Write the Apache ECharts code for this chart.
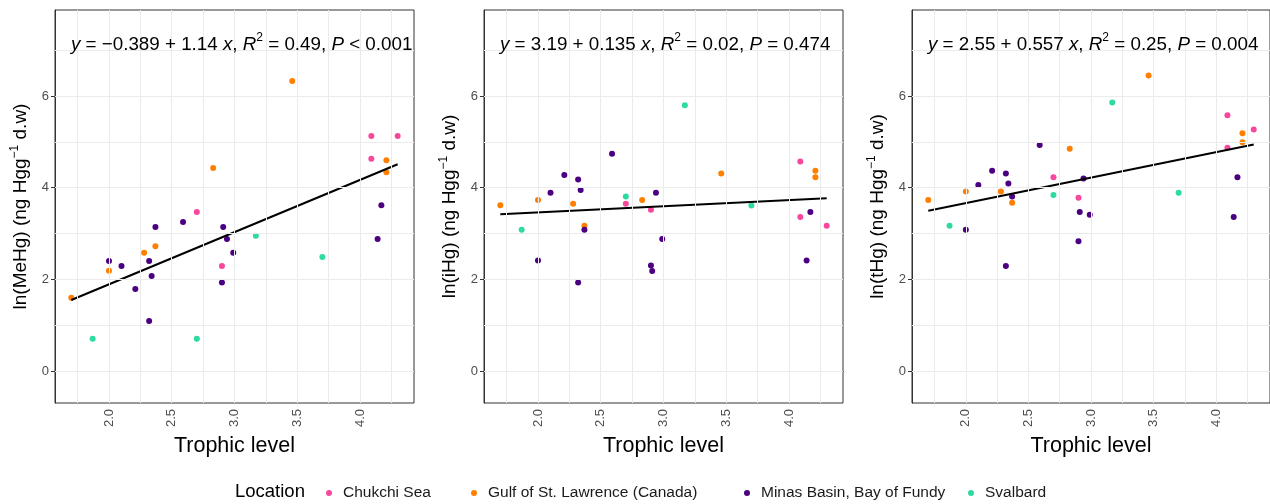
<!DOCTYPE html>
<html>
<head>
<meta charset="utf-8">
<script src="https://cdn.jsdelivr.net/npm/echarts@6/dist/echarts.min.js"></script>
<style>
  html, body { margin: 0; padding: 0; background: #ffffff; }
  #chart { width: 1270px; height: 504px; }
</style>
</head>
<body>
<div id="chart"></div>
<script>
// Sampling locations and their colours
const locations = ['Chukchi Sea', 'Gulf of St. Lawrence (Canada)', 'Minas Basin, Bay of Fundy', 'Svalbard'];
const locationColors = ['#F7489D', '#FF7F00', '#4B0082', '#2EDB9F'];

// Trophic level and log mercury concentrations (ng Hg g-1 d.w) of each sample
const chukchiTL   = [2.70, 2.90, 4.09, 4.09, 4.30];
const chukchiMeHg = [3.47, 2.29, 5.13, 4.63, 5.13];
const chukchiIHg  = [3.65, 3.52, 4.57, 3.36, 3.17];
const chukchiTHg  = [4.23, 3.78, 5.58, 4.87, 5.27];

const gulfTL   = [1.70, 2.00, 2.28, 2.37, 2.83, 3.46, 4.21, 4.21];
const gulfMeHg = [1.60, 2.19, 2.58, 2.72, 4.43, 6.33, 4.60, 4.34];
const gulfIHg  = [3.62, 3.73, 3.65, 3.17, 3.73, 4.31, 4.37, 4.23];
const gulfTHg  = [3.73, 3.92, 3.92, 3.67, 4.85, 6.45, 5.19, 4.99];

const minasTL   = [2.00, 2.10, 2.21, 2.32, 2.32, 2.34, 2.37, 2.59, 2.90, 2.91, 2.94, 2.99, 4.14, 4.17];
const minasMeHg = [2.40, 2.29, 1.79, 2.40, 1.09, 2.07, 3.14, 3.25, 1.93, 3.14, 2.88, 2.58, 2.88, 3.62];
const minasIHg  = [2.41, 3.89, 4.28, 4.18, 1.93, 3.95, 3.08, 4.74, 2.30, 2.18, 3.89, 2.88, 2.41, 3.47];
const minasTHg  = [3.08, 4.06, 4.37, 4.31, 2.29, 4.09, 3.81, 4.93, 2.83, 3.47, 4.20, 3.41, 3.36, 4.23];

const svalbardTL   = [1.87, 2.70, 3.17, 3.70];
const svalbardMeHg = [0.70, 0.70, 2.95, 2.49];
const svalbardIHg  = [3.08, 3.81, 5.80, 3.61];
const svalbardTHg  = [3.17, 3.84, 5.86, 3.89];

// Linear fits, one per panel (MeHg, iHg, tHg)
const fitIntercepts = [-0.389, 3.19, 2.55];
const fitSlopes = [1.14, 0.135, 0.557];
const fitR2 = ['0.49', '0.02', '0.25'];
const fitP = ['< 0.001', '= 0.474', '= 0.004'];
const fitRange = [1.7, 4.3];

// Axis ticks and grid lines
const xTicks = [2.0, 2.5, 3.0, 3.5, 4.0];
const xGridLines = [1.75, 2.0, 2.25, 2.5, 2.75, 3.0, 3.25, 3.5, 3.75, 4.0, 4.25];
const yTicks = [0, 2, 4, 6];
const yGridLines = [0, 1, 2, 3, 4, 5, 6, 7];

const panelNames = ['MeHg', 'iHg', 'tHg'];
const locationTL = [chukchiTL, gulfTL, minasTL, svalbardTL];
const panelValues = [
  [chukchiMeHg, gulfMeHg, minasMeHg, svalbardMeHg],
  [chukchiIHg, gulfIHg, minasIHg, svalbardIHg],
  [chukchiTHg, gulfTHg, minasTHg, svalbardTHg]
];

const FONT = "'Liberation Sans', Arial, sans-serif";
const gridLefts = [55, 484, 912];
const gridWidth = 359;
const legendLefts = [326, 471, 744, 968];

const zip = (xs, ys) => xs.map((x, i) => [x, ys[i]]);

const grids = [], xAxes = [], yAxes = [], series = [], titles = [];

panelNames.forEach((name, p) => {
  grids.push({
    left: gridLefts[p], top: 10, width: gridWidth, height: 393,
    show: true, borderColor: '#333333', borderWidth: 1, backgroundColor: '#ffffff'
  });

  xAxes.push({
    type: 'value', gridIndex: p, min: 1.57, max: 4.43,
    axisLine: { show: true, lineStyle: { color: '#333333', width: 1 } },
    splitLine: { show: false },
    axisTick: { show: true, length: 4, lineStyle: { color: '#333333' }, customValues: xTicks },
    axisLabel: {
      customValues: xTicks, rotate: 90, margin: 6,
      formatter: v => Number(v).toFixed(1),
      color: '#4d4d4d', fontSize: 13, fontFamily: FONT
    },
    name: 'Trophic level', nameLocation: 'middle', nameGap: 31,
    nameTextStyle: { color: '#000000', fontSize: 21.5, fontFamily: FONT }
  });

  yAxes.push({
    type: 'value', gridIndex: p, min: -0.70, max: 7.88,
    axisLine: { show: true, lineStyle: { color: '#333333', width: 1 } },
    splitLine: { show: false },
    axisTick: { show: true, length: 4, lineStyle: { color: '#333333' }, customValues: yTicks },
    axisLabel: { customValues: yTicks, margin: 6, color: '#4d4d4d', fontSize: 13, fontFamily: FONT },
    name: '{a|ln(' + name + ') (ng Hgg}{s|−1}{a| d.w)}',
    nameLocation: 'middle', nameRotate: 90, nameGap: 22,
    nameTextStyle: {
      color: '#000000', fontSize: 19, fontFamily: FONT,
      rich: {
        a: { fontSize: 19, lineHeight: 24, fontFamily: FONT, color: '#000000' },
        s: { fontSize: 12, lineHeight: 11, verticalAlign: 'top', fontFamily: FONT, color: '#000000' }
      }
    }
  });

  // panel grid lines
  series.push({
    type: 'line', xAxisIndex: p, yAxisIndex: p, data: [], z: 1, silent: true,
    markLine: {
      silent: true, symbol: ['none', 'none'], animation: false,
      label: { show: false },
      lineStyle: { color: '#ebebeb', width: 1, type: 'solid' },
      emphasis: { disabled: true },
      data: yGridLines.map(v => ({ yAxis: v })).concat(xGridLines.map(v => ({ xAxis: v })))
    }
  });

  locations.forEach((loc, k) => {
    series.push({
      name: loc, type: 'scatter', xAxisIndex: p, yAxisIndex: p,
      symbol: 'circle', symbolSize: 6, z: 3,
      itemStyle: { color: locationColors[k], opacity: 1 },
      data: zip(locationTL[k], panelValues[p][k])
    });
  });

  const a = fitIntercepts[p], b = fitSlopes[p];
  series.push({
    type: 'line', xAxisIndex: p, yAxisIndex: p, z: 4, silent: true,
    symbol: 'none', lineStyle: { color: '#000000', width: 2 },
    data: fitRange.map(x => [x, a + b * x])
  });

  const sign = a < 0 ? '−' : '';
  titles.push({
    left: gridLefts[p] + 16, top: 32, padding: 0,
    text: '{i|y} = ' + sign + Math.abs(a) + ' + ' + b + ' {i|x}, {i|R}{s|2} = ' + fitR2[p] + ', {i|P} ' + fitP[p],
    textStyle: {
      color: '#000000', fontSize: 18.8, fontWeight: 'normal', fontFamily: FONT, lineHeight: 26,
      rich: {
        i: { fontStyle: 'italic', fontSize: 18.8, lineHeight: 26, fontFamily: FONT, color: '#000000' },
        s: { fontSize: 12, lineHeight: 11, verticalAlign: 'top', fontFamily: FONT, color: '#000000' }
      }
    }
  });
});

// one legend entry per location, laid out along the bottom row
const legends = locations.map((loc, k) => ({
  data: [loc], left: legendLefts[k], top: 485, orient: 'horizontal', padding: 0,
  icon: 'circle', itemWidth: 18, itemHeight: 6,
  textStyle: { color: '#1a1a1a', fontSize: 15.5, fontFamily: FONT },
  selectedMode: false
}));

const chart = echarts.init(document.getElementById('chart'), null, { renderer: 'canvas' });
chart.setOption({
  animation: false,
  backgroundColor: '#ffffff',
  textStyle: { fontFamily: FONT },
  title: titles,
  grid: grids,
  xAxis: xAxes,
  yAxis: yAxes,
  series: series,
  legend: legends,
  graphic: [{
    type: 'text', left: 235, top: 482,
    style: { text: 'Location', fontSize: 18.5, fontFamily: FONT, fill: '#000000' }
  }]
});
</script>
</body>
</html>
